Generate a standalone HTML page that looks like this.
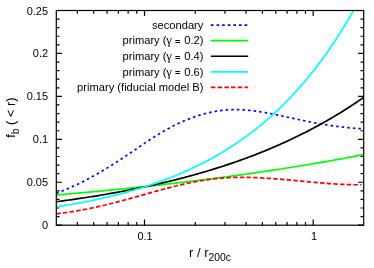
<!DOCTYPE html>
<html><head><meta charset="utf-8"><title>chart</title>
<style>html,body{margin:0;padding:0;background:#fff;}body{width:374px;height:268px;position:relative;overflow:hidden;font-family:"Liberation Sans",sans-serif;}</style>
</head><body>
<svg width="374" height="268" viewBox="0 0 374 268" style="position:absolute;left:0;top:0;will-change:transform">
<defs><clipPath id="c"><rect x="56.3" y="10.5" width="307.4" height="214.7"/></clipPath></defs>
<path d="M56.3,225.20h5.6 M363.7,225.20h-5.6 M56.3,216.61h3.2 M363.7,216.61h-3.2 M56.3,208.02h3.2 M363.7,208.02h-3.2 M56.3,199.44h3.2 M363.7,199.44h-3.2 M56.3,190.85h3.2 M363.7,190.85h-3.2 M56.3,182.26h5.6 M363.7,182.26h-5.6 M56.3,173.67h3.2 M363.7,173.67h-3.2 M56.3,165.08h3.2 M363.7,165.08h-3.2 M56.3,156.50h3.2 M363.7,156.50h-3.2 M56.3,147.91h3.2 M363.7,147.91h-3.2 M56.3,139.32h5.6 M363.7,139.32h-5.6 M56.3,130.73h3.2 M363.7,130.73h-3.2 M56.3,122.14h3.2 M363.7,122.14h-3.2 M56.3,113.56h3.2 M363.7,113.56h-3.2 M56.3,104.97h3.2 M363.7,104.97h-3.2 M56.3,96.38h5.6 M363.7,96.38h-5.6 M56.3,87.79h3.2 M363.7,87.79h-3.2 M56.3,79.20h3.2 M363.7,79.20h-3.2 M56.3,70.62h3.2 M363.7,70.62h-3.2 M56.3,62.03h3.2 M363.7,62.03h-3.2 M56.3,53.44h5.6 M363.7,53.44h-5.6 M56.3,44.85h3.2 M363.7,44.85h-3.2 M56.3,36.26h3.2 M363.7,36.26h-3.2 M56.3,27.68h3.2 M363.7,27.68h-3.2 M56.3,19.09h3.2 M363.7,19.09h-3.2 M56.3,10.50h5.6 M363.7,10.50h-5.6 M77.37,225.2v-3.2 M77.37,10.5v3.2 M93.72,225.2v-3.2 M93.72,10.5v3.2 M107.07,225.2v-3.2 M107.07,10.5v3.2 M118.37,225.2v-3.2 M118.37,10.5v3.2 M128.15,225.2v-3.2 M128.15,10.5v3.2 M136.78,225.2v-3.2 M136.78,10.5v3.2 M144.50,225.2v-5.6 M144.50,10.5v5.6 M195.28,225.2v-3.2 M195.28,10.5v3.2 M224.99,225.2v-3.2 M224.99,10.5v3.2 M246.07,225.2v-3.2 M246.07,10.5v3.2 M262.42,225.2v-3.2 M262.42,10.5v3.2 M275.77,225.2v-3.2 M275.77,10.5v3.2 M287.07,225.2v-3.2 M287.07,10.5v3.2 M296.85,225.2v-3.2 M296.85,10.5v3.2 M305.48,225.2v-3.2 M305.48,10.5v3.2 M313.20,225.2v-5.6 M313.20,10.5v5.6" stroke="#000" stroke-width="1.2" fill="none"/>
<g clip-path="url(#c)" fill="none" stroke-width="1.7">
<path d="M56.30,193.29 L57.32,192.91 L58.34,192.53 L59.36,192.14 L60.38,191.75 L61.40,191.35 L62.42,190.95 L63.45,190.53 L64.47,190.12 L65.49,189.69 L66.51,189.26 L67.53,188.83 L68.55,188.39 L69.57,187.94 L70.59,187.49 L71.61,187.03 L72.63,186.57 L73.65,186.10 L74.67,185.63 L75.69,185.15 L76.71,184.66 L77.74,184.17 L78.76,183.68 L79.78,183.18 L80.80,182.67 L81.82,182.16 L82.84,181.65 L83.86,181.13 L84.88,180.60 L85.90,180.07 L86.92,179.54 L87.94,179.00 L88.96,178.45 L89.98,177.90 L91.01,177.35 L92.03,176.79 L93.05,176.22 L94.07,175.66 L95.09,175.08 L96.11,174.51 L97.13,173.93 L98.15,173.34 L99.17,172.75 L100.19,172.16 L101.21,171.56 L102.23,170.96 L103.25,170.35 L104.27,169.74 L105.30,169.13 L106.32,168.51 L107.34,167.89 L108.36,167.26 L109.38,166.63 L110.40,166.00 L111.42,165.36 L112.44,164.72 L113.46,164.08 L114.48,163.43 L115.50,162.78 L116.52,162.12 L117.54,161.46 L118.56,160.80 L119.59,160.14 L120.61,159.47 L121.63,158.80 L122.65,158.12 L123.67,157.45 L124.69,156.77 L125.71,156.08 L126.73,155.40 L127.75,154.71 L128.77,154.02 L129.79,153.33 L130.81,152.63 L131.83,151.94 L132.86,151.24 L133.88,150.55 L134.90,149.85 L135.92,149.15 L136.94,148.46 L137.96,147.76 L138.98,147.06 L140.00,146.37 L141.02,145.68 L142.04,144.99 L143.06,144.30 L144.08,143.61 L145.10,142.92 L146.12,142.24 L147.15,141.56 L148.17,140.88 L149.19,140.21 L150.21,139.54 L151.23,138.87 L152.25,138.21 L153.27,137.56 L154.29,136.90 L155.31,136.26 L156.33,135.62 L157.35,134.98 L158.37,134.35 L159.39,133.73 L160.42,133.11 L161.44,132.50 L162.46,131.89 L163.48,131.30 L164.50,130.71 L165.52,130.13 L166.54,129.55 L167.56,128.99 L168.58,128.43 L169.60,127.88 L170.62,127.33 L171.64,126.79 L172.66,126.27 L173.68,125.74 L174.71,125.23 L175.73,124.72 L176.75,124.23 L177.77,123.74 L178.79,123.25 L179.81,122.78 L180.83,122.31 L181.85,121.85 L182.87,121.40 L183.89,120.96 L184.91,120.52 L185.93,120.10 L186.95,119.68 L187.97,119.27 L189.00,118.86 L190.02,118.47 L191.04,118.08 L192.06,117.70 L193.08,117.33 L194.10,116.97 L195.12,116.62 L196.14,116.27 L197.16,115.94 L198.18,115.61 L199.20,115.29 L200.22,114.98 L201.24,114.67 L202.27,114.38 L203.29,114.09 L204.31,113.81 L205.33,113.55 L206.35,113.29 L207.37,113.03 L208.39,112.79 L209.41,112.56 L210.43,112.33 L211.45,112.12 L212.47,111.91 L213.49,111.71 L214.51,111.52 L215.53,111.34 L216.56,111.17 L217.58,111.00 L218.60,110.85 L219.62,110.70 L220.64,110.57 L221.66,110.44 L222.68,110.32 L223.70,110.21 L224.72,110.12 L225.74,110.03 L226.76,109.94 L227.78,109.87 L228.80,109.81 L229.83,109.76 L230.85,109.71 L231.87,109.68 L232.89,109.65 L233.91,109.64 L234.93,109.63 L235.95,109.63 L236.97,109.64 L237.99,109.66 L239.01,109.69 L240.03,109.72 L241.05,109.76 L242.07,109.81 L243.09,109.87 L244.12,109.93 L245.14,110.00 L246.16,110.08 L247.18,110.17 L248.20,110.26 L249.22,110.36 L250.24,110.46 L251.26,110.57 L252.28,110.69 L253.30,110.81 L254.32,110.94 L255.34,111.07 L256.36,111.21 L257.38,111.36 L258.41,111.51 L259.43,111.66 L260.45,111.82 L261.47,111.98 L262.49,112.15 L263.51,112.33 L264.53,112.50 L265.55,112.68 L266.57,112.87 L267.59,113.05 L268.61,113.24 L269.63,113.44 L270.65,113.63 L271.68,113.83 L272.70,114.04 L273.72,114.24 L274.74,114.45 L275.76,114.66 L276.78,114.87 L277.80,115.09 L278.82,115.30 L279.84,115.52 L280.86,115.74 L281.88,115.96 L282.90,116.18 L283.92,116.40 L284.94,116.62 L285.97,116.85 L286.99,117.07 L288.01,117.29 L289.03,117.52 L290.05,117.74 L291.07,117.97 L292.09,118.19 L293.11,118.41 L294.13,118.64 L295.15,118.86 L296.17,119.08 L297.19,119.30 L298.21,119.51 L299.24,119.73 L300.26,119.95 L301.28,120.16 L302.30,120.37 L303.32,120.58 L304.34,120.79 L305.36,121.00 L306.38,121.21 L307.40,121.41 L308.42,121.61 L309.44,121.81 L310.46,122.01 L311.48,122.21 L312.50,122.40 L313.53,122.60 L314.55,122.79 L315.57,122.98 L316.59,123.16 L317.61,123.35 L318.63,123.53 L319.65,123.71 L320.67,123.89 L321.69,124.06 L322.71,124.24 L323.73,124.41 L324.75,124.58 L325.77,124.74 L326.79,124.91 L327.82,125.07 L328.84,125.23 L329.86,125.38 L330.88,125.54 L331.90,125.69 L332.92,125.83 L333.94,125.98 L334.96,126.12 L335.98,126.26 L337.00,126.40 L338.02,126.53 L339.04,126.66 L340.06,126.79 L341.09,126.91 L342.11,127.03 L343.13,127.15 L344.15,127.27 L345.17,127.38 L346.19,127.49 L347.21,127.59 L348.23,127.69 L349.25,127.79 L350.27,127.89 L351.29,127.98 L352.31,128.07 L353.33,128.15 L354.35,128.23 L355.38,128.31 L356.40,128.38 L357.42,128.45 L358.44,128.52 L359.46,128.58 L360.48,128.64 L361.50,128.69" stroke="#0000ff" stroke-dasharray="2.5 3.1"/>
<g transform="translate(0.4,0.5)">
<path d="M56.29,194.44 L57.84,194.31 L59.38,194.18 L60.93,194.05 L62.48,193.92 L64.02,193.79 L65.57,193.65 L67.11,193.52 L68.66,193.39 L70.21,193.25 L71.75,193.12 L73.30,192.98 L74.84,192.85 L76.39,192.71 L77.94,192.57 L79.48,192.43 L81.03,192.29 L82.58,192.16 L84.12,192.02 L85.67,191.88 L87.21,191.73 L88.76,191.59 L90.31,191.45 L91.85,191.31 L93.40,191.16 L94.95,191.02 L96.49,190.88 L98.04,190.73 L99.58,190.59 L101.13,190.44 L102.68,190.29 L104.22,190.14 L105.77,190.00 L107.31,189.85 L108.86,189.70 L110.41,189.55 L111.95,189.40 L113.50,189.25 L115.05,189.09 L116.59,188.94 L118.14,188.79 L119.68,188.63 L121.23,188.48 L122.78,188.32 L124.32,188.17 L125.87,188.01 L127.42,187.85 L128.96,187.70 L130.51,187.54 L132.05,187.38 L133.60,187.22 L135.15,187.06 L136.69,186.90 L138.24,186.73 L139.79,186.57 L141.33,186.41 L142.88,186.24 L144.42,186.08 L145.97,185.91 L147.52,185.75 L149.06,185.58 L150.61,185.41 L152.15,185.24 L153.70,185.07 L155.25,184.91 L156.79,184.73 L158.34,184.56 L159.89,184.39 L161.43,184.22 L162.98,184.05 L164.52,183.87 L166.07,183.70 L167.62,183.52 L169.16,183.34 L170.71,183.17 L172.26,182.99 L173.80,182.81 L175.35,182.63 L176.89,182.45 L178.44,182.27 L179.99,182.09 L181.53,181.91 L183.08,181.72 L184.62,181.54 L186.17,181.36 L187.72,181.17 L189.26,180.98 L190.81,180.80 L192.36,180.61 L193.90,180.42 L195.45,180.23 L196.99,180.04 L198.54,179.85 L200.09,179.66 L201.63,179.47 L203.18,179.27 L204.73,179.08 L206.27,178.88 L207.82,178.69 L209.36,178.49 L210.91,178.29 L212.46,178.09 L214.00,177.89 L215.55,177.69 L217.09,177.49 L218.64,177.29 L220.19,177.09 L221.73,176.89 L223.28,176.68 L224.83,176.48 L226.37,176.27 L227.92,176.06 L229.46,175.86 L231.01,175.65 L232.56,175.44 L234.10,175.23 L235.65,175.02 L237.20,174.80 L238.74,174.59 L240.29,174.38 L241.83,174.16 L243.38,173.95 L244.93,173.73 L246.47,173.51 L248.02,173.29 L249.57,173.07 L251.11,172.85 L252.66,172.63 L254.20,172.41 L255.75,172.18 L257.30,171.96 L258.84,171.74 L260.39,171.51 L261.93,171.28 L263.48,171.05 L265.03,170.83 L266.57,170.60 L268.12,170.36 L269.67,170.13 L271.21,169.90 L272.76,169.67 L274.30,169.43 L275.85,169.19 L277.40,168.96 L278.94,168.72 L280.49,168.48 L282.04,168.24 L283.58,168.00 L285.13,167.76 L286.67,167.52 L288.22,167.27 L289.77,167.03 L291.31,166.78 L292.86,166.53 L294.40,166.28 L295.95,166.04 L297.50,165.79 L299.04,165.53 L300.59,165.28 L302.14,165.03 L303.68,164.77 L305.23,164.52 L306.77,164.26 L308.32,164.00 L309.87,163.74 L311.41,163.48 L312.96,163.22 L314.51,162.96 L316.05,162.70 L317.60,162.43 L319.14,162.17 L320.69,161.90 L322.24,161.63 L323.78,161.37 L325.33,161.10 L326.88,160.82 L328.42,160.55 L329.97,160.28 L331.51,160.00 L333.06,159.73 L334.61,159.45 L336.15,159.17 L337.70,158.89 L339.24,158.61 L340.79,158.33 L342.34,158.05 L343.88,157.76 L345.43,157.48 L346.98,157.19 L348.52,156.91 L350.07,156.62 L351.61,156.33 L353.16,156.04 L354.71,155.74 L356.25,155.45 L357.80,155.15 L359.35,154.86 L360.89,154.56 L362.44,154.26 L363.98,153.96" stroke="#00ff00"/>
<path d="M56.29,201.18 L57.84,200.98 L59.38,200.78 L60.93,200.57 L62.48,200.36 L64.02,200.15 L65.57,199.94 L67.11,199.72 L68.66,199.51 L70.21,199.29 L71.75,199.07 L73.30,198.85 L74.84,198.62 L76.39,198.40 L77.94,198.17 L79.48,197.94 L81.03,197.71 L82.58,197.48 L84.12,197.24 L85.67,197.01 L87.21,196.77 L88.76,196.53 L90.31,196.28 L91.85,196.04 L93.40,195.79 L94.95,195.54 L96.49,195.29 L98.04,195.04 L99.58,194.78 L101.13,194.52 L102.68,194.26 L104.22,194.00 L105.77,193.74 L107.31,193.47 L108.86,193.20 L110.41,192.93 L111.95,192.66 L113.50,192.38 L115.05,192.10 L116.59,191.82 L118.14,191.54 L119.68,191.25 L121.23,190.97 L122.78,190.68 L124.32,190.38 L125.87,190.09 L127.42,189.79 L128.96,189.49 L130.51,189.19 L132.05,188.88 L133.60,188.57 L135.15,188.26 L136.69,187.95 L138.24,187.63 L139.79,187.32 L141.33,186.99 L142.88,186.67 L144.42,186.34 L145.97,186.01 L147.52,185.68 L149.06,185.35 L150.61,185.01 L152.15,184.67 L153.70,184.33 L155.25,183.98 L156.79,183.63 L158.34,183.28 L159.89,182.92 L161.43,182.56 L162.98,182.20 L164.52,181.84 L166.07,181.47 L167.62,181.10 L169.16,180.73 L170.71,180.35 L172.26,179.97 L173.80,179.58 L175.35,179.20 L176.89,178.81 L178.44,178.41 L179.99,178.02 L181.53,177.62 L183.08,177.21 L184.62,176.81 L186.17,176.40 L187.72,175.98 L189.26,175.57 L190.81,175.15 L192.36,174.72 L193.90,174.29 L195.45,173.86 L196.99,173.43 L198.54,172.99 L200.09,172.55 L201.63,172.10 L203.18,171.65 L204.73,171.19 L206.27,170.74 L207.82,170.28 L209.36,169.81 L210.91,169.34 L212.46,168.87 L214.00,168.39 L215.55,167.91 L217.09,167.42 L218.64,166.93 L220.19,166.44 L221.73,165.94 L223.28,165.44 L224.83,164.93 L226.37,164.42 L227.92,163.90 L229.46,163.38 L231.01,162.86 L232.56,162.33 L234.10,161.80 L235.65,161.26 L237.20,160.72 L238.74,160.17 L240.29,159.62 L241.83,159.07 L243.38,158.51 L244.93,157.94 L246.47,157.37 L248.02,156.80 L249.57,156.22 L251.11,155.63 L252.66,155.04 L254.20,154.45 L255.75,153.85 L257.30,153.24 L258.84,152.63 L260.39,152.02 L261.93,151.40 L263.48,150.77 L265.03,150.14 L266.57,149.50 L268.12,148.86 L269.67,148.21 L271.21,147.56 L272.76,146.90 L274.30,146.24 L275.85,145.57 L277.40,144.89 L278.94,144.21 L280.49,143.53 L282.04,142.83 L283.58,142.14 L285.13,141.43 L286.67,140.72 L288.22,140.01 L289.77,139.28 L291.31,138.56 L292.86,137.82 L294.40,137.08 L295.95,136.33 L297.50,135.58 L299.04,134.82 L300.59,134.05 L302.14,133.28 L303.68,132.50 L305.23,131.72 L306.77,130.92 L308.32,130.12 L309.87,129.32 L311.41,128.51 L312.96,127.69 L314.51,126.86 L316.05,126.03 L317.60,125.19 L319.14,124.34 L320.69,123.48 L322.24,122.62 L323.78,121.75 L325.33,120.87 L326.88,119.99 L328.42,119.10 L329.97,118.20 L331.51,117.29 L333.06,116.38 L334.61,115.45 L336.15,114.52 L337.70,113.58 L339.24,112.64 L340.79,111.68 L342.34,110.72 L343.88,109.75 L345.43,108.77 L346.98,107.79 L348.52,106.79 L350.07,105.79 L351.61,104.77 L353.16,103.75 L354.71,102.72 L356.25,101.69 L357.80,100.64 L359.35,99.58 L360.89,98.52 L362.44,97.44 L363.98,96.36" stroke="#000000"/>
<path d="M56.29,206.28 L57.84,206.04 L59.38,205.80 L60.93,205.55 L62.48,205.30 L64.02,205.05 L65.57,204.79 L67.11,204.53 L68.66,204.27 L70.21,204.00 L71.75,203.73 L73.30,203.45 L74.84,203.18 L76.39,202.90 L77.94,202.61 L79.48,202.33 L81.03,202.03 L82.58,201.74 L84.12,201.44 L85.67,201.14 L87.21,200.83 L88.76,200.52 L90.31,200.21 L91.85,199.89 L93.40,199.56 L94.95,199.24 L96.49,198.91 L98.04,198.57 L99.58,198.23 L101.13,197.89 L102.68,197.54 L104.22,197.19 L105.77,196.83 L107.31,196.47 L108.86,196.10 L110.41,195.73 L111.95,195.36 L113.50,194.98 L115.05,194.59 L116.59,194.20 L118.14,193.81 L119.68,193.41 L121.23,193.00 L122.78,192.59 L124.32,192.18 L125.87,191.75 L127.42,191.33 L128.96,190.90 L130.51,190.46 L132.05,190.02 L133.60,189.57 L135.15,189.11 L136.69,188.65 L138.24,188.19 L139.79,187.72 L141.33,187.24 L142.88,186.76 L144.42,186.27 L145.97,185.77 L147.52,185.27 L149.06,184.76 L150.61,184.24 L152.15,183.72 L153.70,183.19 L155.25,182.66 L156.79,182.12 L158.34,181.57 L159.89,181.01 L161.43,180.45 L162.98,179.88 L164.52,179.30 L166.07,178.71 L167.62,178.12 L169.16,177.52 L170.71,176.92 L172.26,176.30 L173.80,175.68 L175.35,175.05 L176.89,174.41 L178.44,173.76 L179.99,173.10 L181.53,172.44 L183.08,171.77 L184.62,171.09 L186.17,170.40 L187.72,169.70 L189.26,168.99 L190.81,168.28 L192.36,167.55 L193.90,166.82 L195.45,166.07 L196.99,165.32 L198.54,164.55 L200.09,163.78 L201.63,163.00 L203.18,162.21 L204.73,161.40 L206.27,160.59 L207.82,159.77 L209.36,158.93 L210.91,158.09 L212.46,157.23 L214.00,156.37 L215.55,155.49 L217.09,154.60 L218.64,153.70 L220.19,152.79 L221.73,151.87 L223.28,150.93 L224.83,149.99 L226.37,149.03 L227.92,148.06 L229.46,147.08 L231.01,146.08 L232.56,145.07 L234.10,144.05 L235.65,143.02 L237.20,141.97 L238.74,140.91 L240.29,139.84 L241.83,138.75 L243.38,137.65 L244.93,136.53 L246.47,135.40 L248.02,134.26 L249.57,133.10 L251.11,131.92 L252.66,130.74 L254.20,129.53 L255.75,128.31 L257.30,127.08 L258.84,125.83 L260.39,124.56 L261.93,123.28 L263.48,121.98 L265.03,120.66 L266.57,119.33 L268.12,117.98 L269.67,116.62 L271.21,115.23 L272.76,113.83 L274.30,112.41 L275.85,110.98 L277.40,109.52 L278.94,108.05 L280.49,106.55 L282.04,105.04 L283.58,103.51 L285.13,101.96 L286.67,100.39 L288.22,98.80 L289.77,97.19 L291.31,95.56 L292.86,93.90 L294.40,92.23 L295.95,90.54 L297.50,88.82 L299.04,87.08 L300.59,85.32 L302.14,83.54 L303.68,81.74 L305.23,79.91 L306.77,78.06 L308.32,76.18 L309.87,74.28 L311.41,72.36 L312.96,70.41 L314.51,68.44 L316.05,66.44 L317.60,64.42 L319.14,62.37 L320.69,60.29 L322.24,58.19 L323.78,56.06 L325.33,53.91 L326.88,51.73 L328.42,49.52 L329.97,47.28 L331.51,45.01 L333.06,42.71 L334.61,40.39 L336.15,38.03 L337.70,35.65 L339.24,33.23 L340.79,30.79 L342.34,28.31 L343.88,25.80 L345.43,23.26 L346.98,20.69 L348.52,18.08 L350.07,15.44 L351.61,12.77 L353.16,10.06 L354.71,7.32 L356.25,4.54 L357.80,1.73 L359.35,-1.12 L360.89,-4.00 L362.44,-6.92 L363.98,-9.88" stroke="#00ffff"/>
</g>
<path d="M56.30,213.77 L57.32,213.66 L58.34,213.54 L59.36,213.42 L60.38,213.29 L61.40,213.16 L62.42,213.03 L63.45,212.90 L64.47,212.76 L65.49,212.62 L66.51,212.48 L67.53,212.33 L68.55,212.18 L69.57,212.03 L70.59,211.87 L71.61,211.72 L72.63,211.56 L73.65,211.39 L74.67,211.23 L75.69,211.06 L76.71,210.89 L77.74,210.71 L78.76,210.53 L79.78,210.35 L80.80,210.17 L81.82,209.99 L82.84,209.80 L83.86,209.61 L84.88,209.41 L85.90,209.22 L86.92,209.02 L87.94,208.82 L88.96,208.61 L89.98,208.40 L91.01,208.19 L92.03,207.98 L93.05,207.77 L94.07,207.55 L95.09,207.33 L96.11,207.11 L97.13,206.89 L98.15,206.66 L99.17,206.43 L100.19,206.20 L101.21,205.96 L102.23,205.73 L103.25,205.49 L104.27,205.25 L105.30,205.00 L106.32,204.76 L107.34,204.51 L108.36,204.26 L109.38,204.00 L110.40,203.75 L111.42,203.49 L112.44,203.24 L113.46,202.98 L114.48,202.71 L115.50,202.45 L116.52,202.18 L117.54,201.92 L118.56,201.65 L119.59,201.38 L120.61,201.11 L121.63,200.83 L122.65,200.56 L123.67,200.28 L124.69,200.01 L125.71,199.73 L126.73,199.45 L127.75,199.17 L128.77,198.89 L129.79,198.61 L130.81,198.33 L131.83,198.04 L132.86,197.76 L133.88,197.47 L134.90,197.19 L135.92,196.90 L136.94,196.61 L137.96,196.33 L138.98,196.04 L140.00,195.75 L141.02,195.46 L142.04,195.17 L143.06,194.89 L144.08,194.60 L145.10,194.31 L146.12,194.02 L147.15,193.73 L148.17,193.44 L149.19,193.16 L150.21,192.87 L151.23,192.58 L152.25,192.30 L153.27,192.01 L154.29,191.73 L155.31,191.44 L156.33,191.16 L157.35,190.88 L158.37,190.59 L159.39,190.31 L160.42,190.04 L161.44,189.76 L162.46,189.48 L163.48,189.21 L164.50,188.93 L165.52,188.66 L166.54,188.39 L167.56,188.12 L168.58,187.85 L169.60,187.59 L170.62,187.32 L171.64,187.06 L172.66,186.80 L173.68,186.54 L174.71,186.29 L175.73,186.03 L176.75,185.78 L177.77,185.54 L178.79,185.29 L179.81,185.05 L180.83,184.80 L181.85,184.57 L182.87,184.33 L183.89,184.10 L184.91,183.87 L185.93,183.64 L186.95,183.42 L187.97,183.20 L189.00,182.98 L190.02,182.76 L191.04,182.55 L192.06,182.35 L193.08,182.14 L194.10,181.94 L195.12,181.75 L196.14,181.55 L197.16,181.36 L198.18,181.18 L199.20,181.00 L200.22,180.82 L201.24,180.65 L202.27,180.48 L203.29,180.31 L204.31,180.15 L205.33,179.99 L206.35,179.84 L207.37,179.69 L208.39,179.55 L209.41,179.41 L210.43,179.28 L211.45,179.15 L212.47,179.03 L213.49,178.91 L214.51,178.79 L215.53,178.69 L216.56,178.58 L217.58,178.48 L218.60,178.39 L219.62,178.30 L220.64,178.21 L221.66,178.13 L222.68,178.06 L223.70,177.98 L224.72,177.92 L225.74,177.85 L226.76,177.79 L227.78,177.74 L228.80,177.69 L229.83,177.64 L230.85,177.60 L231.87,177.56 L232.89,177.53 L233.91,177.50 L234.93,177.47 L235.95,177.45 L236.97,177.43 L237.99,177.41 L239.01,177.40 L240.03,177.39 L241.05,177.39 L242.07,177.39 L243.09,177.39 L244.12,177.39 L245.14,177.40 L246.16,177.41 L247.18,177.43 L248.20,177.45 L249.22,177.47 L250.24,177.49 L251.26,177.52 L252.28,177.55 L253.30,177.58 L254.32,177.61 L255.34,177.65 L256.36,177.69 L257.38,177.73 L258.41,177.78 L259.43,177.83 L260.45,177.88 L261.47,177.93 L262.49,177.98 L263.51,178.04 L264.53,178.10 L265.55,178.16 L266.57,178.22 L267.59,178.29 L268.61,178.35 L269.63,178.42 L270.65,178.49 L271.68,178.56 L272.70,178.64 L273.72,178.71 L274.74,178.79 L275.76,178.87 L276.78,178.94 L277.80,179.03 L278.82,179.11 L279.84,179.19 L280.86,179.28 L281.88,179.36 L282.90,179.45 L283.92,179.54 L284.94,179.63 L285.97,179.72 L286.99,179.81 L288.01,179.90 L289.03,179.99 L290.05,180.08 L291.07,180.18 L292.09,180.27 L293.11,180.36 L294.13,180.46 L295.15,180.55 L296.17,180.65 L297.19,180.75 L298.21,180.84 L299.24,180.94 L300.26,181.03 L301.28,181.13 L302.30,181.23 L303.32,181.32 L304.34,181.42 L305.36,181.51 L306.38,181.61 L307.40,181.70 L308.42,181.80 L309.44,181.89 L310.46,181.99 L311.48,182.08 L312.50,182.17 L313.53,182.27 L314.55,182.36 L315.57,182.45 L316.59,182.54 L317.61,182.63 L318.63,182.71 L319.65,182.80 L320.67,182.89 L321.69,182.97 L322.71,183.05 L323.73,183.14 L324.75,183.22 L325.77,183.30 L326.79,183.37 L327.82,183.45 L328.84,183.53 L329.86,183.60 L330.88,183.67 L331.90,183.74 L332.92,183.81 L333.94,183.88 L334.96,183.94 L335.98,184.00 L337.00,184.06 L338.02,184.12 L339.04,184.18 L340.06,184.23 L341.09,184.28 L342.11,184.33 L343.13,184.38 L344.15,184.42 L345.17,184.47 L346.19,184.51 L347.21,184.54 L348.23,184.58 L349.25,184.61 L350.27,184.64 L351.29,184.67 L352.31,184.69 L353.33,184.71 L354.35,184.73 L355.38,184.74 L356.40,184.75 L357.42,184.76 L358.44,184.77 L359.46,184.77 L360.48,184.76 L361.50,184.76" stroke="#ff0000" stroke-dasharray="4.5 2.2"/>
</g>
<rect x="56.3" y="10.5" width="307.4" height="214.7" fill="none" stroke="#000" stroke-width="1.2"/>
<path d="M210.9,25.05H248.2" stroke="#0000ff" stroke-width="1.7" fill="none" stroke-dasharray="2.6 3.02"/>
<path d="M210.9,40.65H248.2" stroke="#00ff00" stroke-width="1.7" fill="none"/>
<path d="M210.9,56.25H248.2" stroke="#000000" stroke-width="1.7" fill="none"/>
<path d="M210.9,71.85H248.2" stroke="#00ffff" stroke-width="1.7" fill="none"/>
<path d="M210.9,87.45H248.2" stroke="#ff0000" stroke-width="1.7" fill="none" stroke-dasharray="4.5 2.2"/>
<g font-family="Liberation Sans, sans-serif" font-size="11" fill="#000">
<text x="203.4" y="28.8" text-anchor="end" font-size="11.15">secondary</text>
<text x="203.4" y="44.4" text-anchor="end" font-size="11.15">primary (<tspan font-family="Liberation Serif, serif" font-size="12.6" dx="-0.3">γ</tspan> <tspan font-size="9" font-weight="bold" dy="0.7">=</tspan><tspan dx="0.96" dy="-0.7"> 0.2)</tspan></text>
<text x="203.4" y="60.0" text-anchor="end" font-size="11.15">primary (<tspan font-family="Liberation Serif, serif" font-size="12.6" dx="-0.3">γ</tspan> <tspan font-size="9" font-weight="bold" dy="0.7">=</tspan><tspan dx="0.96" dy="-0.7"> 0.4)</tspan></text>
<text x="203.4" y="75.6" text-anchor="end" font-size="11.15">primary (<tspan font-family="Liberation Serif, serif" font-size="12.6" dx="-0.3">γ</tspan> <tspan font-size="9" font-weight="bold" dy="0.7">=</tspan><tspan dx="0.96" dy="-0.7"> 0.6)</tspan></text>
<text x="203.4" y="91.2" text-anchor="end" font-size="11.15">primary (fiducial model B)</text>
<text x="48.1" y="229.2" text-anchor="end">0</text>
<text x="48.1" y="186.3" text-anchor="end">0.05</text>
<text x="48.1" y="143.3" text-anchor="end">0.1</text>
<text x="48.1" y="100.4" text-anchor="end">0.15</text>
<text x="48.1" y="57.4" text-anchor="end">0.2</text>
<text x="48.1" y="14.5" text-anchor="end">0.25</text>
<text x="145.1" y="240.2" text-anchor="middle">0.1</text>
<text x="314.1" y="240.3" text-anchor="middle">1</text>
</g>
<g font-family="Liberation Sans, sans-serif" font-size="13" fill="#000">
<text x="189.0" y="257">r / r<tspan font-size="10.4" dy="4.1">200c</tspan></text>
<text transform="translate(14.6,137.8) rotate(-90)" font-size="12.8">f<tspan font-size="10.4" dy="4.1">b</tspan><tspan dy="-4.1"> ( &lt; r)</tspan></text>
</g>
</svg>
</body></html>
